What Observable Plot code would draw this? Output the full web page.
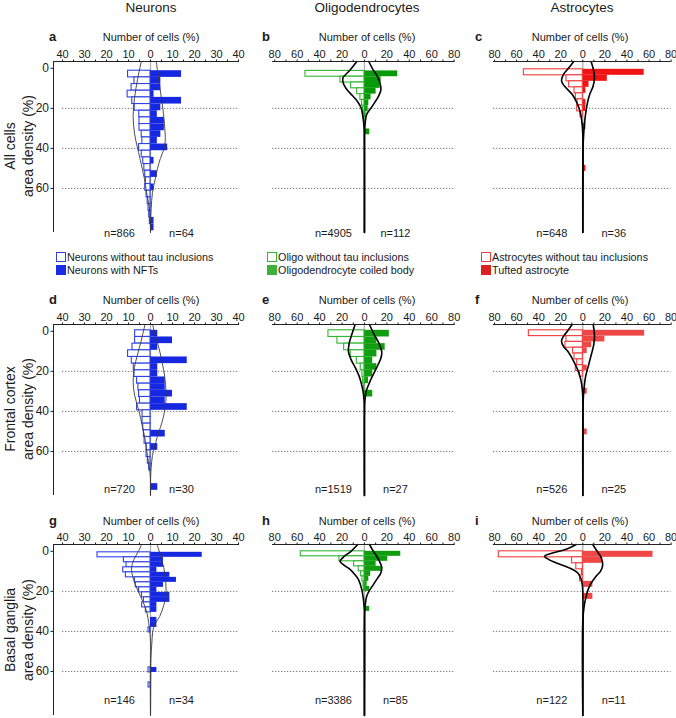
<!DOCTYPE html>
<html><head><meta charset="utf-8">
<script src="https://cdn.jsdelivr.net/npm/d3@7"></script>
<script src="https://cdn.jsdelivr.net/npm/@observablehq/plot@0.6"></script>
<style>
body{margin:0;background:#fff;font-family:"Liberation Sans",Arial,sans-serif;}
#fig{position:relative;width:676px;height:718px;overflow:hidden;background:#fff;}
.abs{position:absolute;white-space:nowrap;color:#1a1a1a;line-height:14px;}
.ttl{font-size:13.5px;transform:translateX(-50%);}
.let{font-size:13px;font-weight:bold;}
.nc{font-size:11px;transform:translateX(-50%);}
.rowlab{font-size:14px;text-align:center;line-height:18px;width:220px;height:36px;transform:rotate(-90deg);transform-origin:center center;}
.leg{font-size:10.8px;line-height:13px;}
.sq{display:inline-block;width:10px;height:10px;vertical-align:-1px;margin-right:1px;box-sizing:border-box;}
svg{position:absolute;overflow:visible;}
</style></head><body><div id="fig"></div>
<script>
// ---------------- DATA ----------------
const columnTitles = ["Neurons", "Oligodendrocytes", "Astrocytes"];
const rowTitles = [["All cells", "area density (%)"], ["Frontal cortex", "area density (%)"], ["Basal ganglia", "area density (%)"]];
const panelLetters = ["a","b","c","d","e","f","g","h","i"];
const legendWithout = ["Neurons without tau inclusions", "Oligo without tau inclusions", "Astrocytes without tau inclusions"];
const legendWith = ["Neurons with NFTs", "Oligodendrocyte coiled body", "Tufted astrocyte"];
const yTicks = [0, 20, 40, 60];
const gridLines = [20, 40, 60];
const nWithout = [866, 4905, 648, 720, 1519, 526, 146, 3386, 122];
const nWith = [64, 112, 36, 30, 27, 25, 34, 85, 11];
// histogram bins (area density %, lower edge of first bin and bin width) per panel
const binStarts = [1.2, 1.3, 0.5, -0.5, -0.5, -0.5, 0.5, 0, 0];
const binWidths = [3.33, 2.9, 3.0, 3.33, 3.33, 2.9, 2.5, 2.5, 3.0];

// % of cells per bin (without tau inclusions / with tau inclusions)
const aWithout = [10.2, 7.3, 8.6, 10.4, 8.3, 7.2, 5.1, 5.0, 5.0, 4.0, 3.7, 5.2, 4.0, 3.3, 2.8, 2.4, 2.1, 2.4, 1.8, 1.3, 0.9, 0.6, 0.3];
const aWith    = [14.1, 4.7, 4.7, 1.6, 14.1, 4.7, 3.1, 6.3, 6.3, 4.7, 3.1, 7.8, 0, 1.6, 0, 3.1, 0, 1.6, 0, 0, 0, 0, 1.6, 1.6];
const bWithout = [52.6, 21.4, 11.9, 6.5, 3.6, 2.1, 1.2, 0.6, 0.3];
const bWith    = [29.7, 14.9, 14.0, 10.4, 5.9, 3.9, 3.3, 1.5, 0, 0, 4.8];
const cWithout = [53.4, 14.8, 12.4, 7.5, 6.3, 4.8, 5.1, 2.1];
const cWith    = [55.6, 22.2, 5.6, 2.8, 0, 2.8, 2.8, 0, 0, 2.8, 0, 0, 0, 0, 0, 0, 2.8];
const dWithout = [7.0, 7.0, 8.2, 10.2, 8.5, 7.6, 7.3, 6.1, 5.5, 5.2, 4.8, 6.1, 3.6, 3.6, 3.3, 3.0, 2.7, 1.8, 1.8, 1.2, 0.6];
const dWith    = [3.3, 10, 3.3, 0, 16.7, 3.3, 3.3, 6.7, 6.7, 10, 6.7, 16.7, 0, 0, 0, 6.7, 0, 3.3, 0, 0, 0, 0, 0, 3.3];
const eWithout = [32.1, 24.1, 18.1, 12.2, 6.8, 3.3, 1.8, 1.2, 0.6];
const eWith    = [22.2, 11.1, 18.5, 11.1, 7.4, 11.1, 7.4, 3.7, 0, 7.4];
const fWithout = [48.9, 14.8, 15.7, 8.8, 7.5, 5.1, 6.3, 2.7];
const fWith    = [56, 20, 8, 4, 0, 0, 4, 0, 0, 0, 4, 0, 0, 0, 0, 0, 0, 4];
const gWithout = [24.1, 12.1, 10.9, 12.4, 11.2, 7.1, 6.7, 5.2, 3.9, 3.0, 3.8, 2.1, 0, 0, 0, 0.9, 0, 0, 0, 0, 0, 0, 0, 0.9, 0, 0, 0.9];
const gWith    = [23.5, 5.9, 5.9, 2.9, 8.8, 11.8, 5.9, 2.9, 8.8, 8.8, 2.9, 2.9, 0, 2.9, 2.9, 0, 0, 0, 0, 0, 0, 0, 0, 2.9];
const hWithout = [56.8, 22.3, 9.2, 5.1, 3.0, 1.8, 0.9, 0.5];
const hWith    = [32.4, 20.8, 10.4, 15.5, 5.6, 3.9, 2.4, 4.7, 0, 0, 0, 4.7];
const iWithout = [76.1, 9.7, 5.9, 0.8, 2.5];
const iWith    = [63.6, 18.2, 0, 0, 0, 9.1, 0, 9.1];

// density curves: [area density, % of cells]
const aCurveWithout = [[-3.4,-4.2],[5,-5.8],[15,-7.3],[24,-7.9],[33,-7.2],[45,-4.8],[55,-2.8],[62,-1.8],[69,-0.6],[76,-0.1],[82,0]];
const aCurveWith    = [[-3.4,2.6],[10,4.3],[20,5.6],[30,6.5],[36,6.7],[40,6.2],[45,4.5],[50,3.2],[55,2.2],[62,0.9],[70,0.3],[78,0],[82,0]];
const bCurveWithout = [[-3.4,-6.8],[1,-13],[5,-19.3],[8,-18.5],[10.5,-15.8],[13.5,-11],[16.3,-6.5],[19.7,-3],[24.7,-1.2],[30,-0.3],[36,0],[82,0]];
const bCurveWith    = [[-3.4,3.9],[0,7],[4,11.5],[8,14.2],[11,14.6],[14,12.5],[17,9.2],[20,5.6],[23,2],[27,0.7],[33,0.1],[38,0],[82,0]];
const cCurveWithout = [[-3.4,-8.2],[0,-13],[3,-17.5],[6.3,-19.3],[9,-16.5],[13,-9.7],[17,-5.5],[20,-3.4],[24,-1.5],[28,-0.6],[33,0],[82,0]];
const cCurveWith    = [[-3.4,7.5],[1,9.8],[4.7,10.6],[9,9.3],[13,6.3],[17,4.3],[20,3.3],[26,1.8],[32,0.9],[38,0.3],[45,0],[82,0]];
const dCurveWithout = [[-3.4,-2.5],[5,-4.3],[12,-6],[18,-7.3],[25,-7.9],[32,-7.2],[40,-5.2],[47,-3.8],[53,-2.6],[62,-1.4],[68,-0.5],[74,0],[82,0]];
const dCurveWith    = [[-3.4,1],[3,2.3],[7,3.5],[15,5.2],[23,6.5],[30,7],[35,7],[43,5.8],[48,4.5],[53,3],[58,1.8],[62,0.9],[68,0.3],[74,0],[82,0]];
const eCurveWithout = [[-3.4,-8.3],[2,-11.5],[6,-13.6],[10,-14.3],[14,-12],[18,-8.3],[22,-5],[25,-3.3],[30,-1.2],[35,-0.3],[40,0],[82,0]];
const eCurveWith    = [[-3.4,4.5],[2,9],[6,13],[10.7,15.5],[14,14.3],[18,11],[22,7.5],[25,5],[30,1.5],[35,0.4],[40,0],[82,0]];
const fCurveWithout = [[-3.4,-9.7],[0,-14],[2.5,-17.5],[4.8,-19.3],[7.5,-17.5],[10,-13.6],[15,-8.2],[20.7,-3.6],[25,-1.5],[29,-0.5],[33,0],[82,0]];
const fCurveWith    = [[-3.4,9.4],[0,10.3],[3,10.6],[7,9.8],[10,8.5],[16.5,5.4],[23,2.4],[30,0.9],[35,0.3],[42,0],[82,0]];
const gCurveWithout = [[-3.4,-4.1],[0,-5.5],[4,-7.5],[8.3,-8.6],[13,-8],[20,-5.6],[25,-3.5],[30,-1.8],[37.5,-0.6],[45,0],[82,0]];
const gCurveWith    = [[-3.4,3],[2,4.5],[8,6],[14,6.8],[22.5,7],[27,6],[32.5,4.2],[36,2.2],[39,1.2],[47.5,0.5],[56,0],[82,0]];
const hCurveWithout = [[-3.4,-6],[0,-12],[3,-19],[5,-21.7],[7,-18],[9,-12.8],[12,-8],[14,-5.4],[19,-2.4],[24,-0.9],[30,0],[82,0]];
const hCurveWith    = [[-3.4,4.5],[0,8],[4,12.5],[8.3,15.5],[11,14.5],[14,11],[17,7.5],[19,5],[22.5,2],[27.5,0.6],[33,0],[82,0]];
const iCurveWithout = [[-3.4,-6],[-1,-15],[1,-28],[2.5,-34.7],[4,-31],[5.8,-24],[8.3,-12],[10.8,-4.5],[14,-1.5],[17,-0.4],[20,0],[82,0]];
const iCurveWith    = [[-3.4,9],[0,13],[3,16.5],[7,18],[10,16],[12.5,12],[17.5,6],[22.5,3],[27.5,1.2],[35,0],[82,0]];

const withoutSets = [aWithout,bWithout,cWithout,dWithout,eWithout,fWithout,gWithout,hWithout,iWithout];
const withSets = [aWith,bWith,cWith,dWith,eWith,fWith,gWith,hWith,iWith];
const curveWithoutSets = [aCurveWithout,bCurveWithout,cCurveWithout,dCurveWithout,eCurveWithout,fCurveWithout,gCurveWithout,hCurveWithout,iCurveWithout];
const curveWithSets = [aCurveWith,bCurveWith,cCurveWith,dCurveWith,eCurveWith,fCurveWith,gCurveWith,hCurveWith,iCurveWith];

// ---------------- LAYOUT / STYLE ----------------
const FONT = '"Liberation Sans", Arial, sans-serif';
const yDomain = [-3.4, 82];
const MT = 22, PH = 171, MB = 14;
const cols = [
  {left:0,   width:245, ml:53,   mr:7,   domain:[-44.1,40], ticks:d3.range(-40,41,5),  step:10, gridX:[-40,40],
   fill:["#1527e0","#1527e0","#1527e0"], stroke:"#2f43e4", legFill:"#1a2ce6", curve:"#3a3a3a", cw:0.9},
  {left:245, width:215, ml:27,   mr:5.8, domain:[-82,80.5], ticks:d3.range(-80,81,10), step:20, gridX:[-82,80.5],
   fill:["#079a07","#109e10","#0f9c0f"], stroke:"#32b532", legFill:"#3cb23c", curve:"#000", cw:1.6},
  {left:460, width:216, ml:32.9, mr:5.4, domain:[-81,80],   ticks:d3.range(-80,81,10), step:20, gridX:[-81,80],
   fill:["#f01414","#ef4646","#ef4646"], stroke:"#f43c3c", legFill:"#dc2020", curve:"#000", cw:1.6}
];
const rows = [
  {axisTop:60.5,  nDy:4.5, labY:36.5},
  {axisTop:323.5, nDy:-3,  labY:299.5},
  {axisTop:544,   nDy:-12, labY:521}
];

const fig = document.getElementById("fig");
function addDiv(cls, text, left, top, extra) {
  const d = document.createElement("div");
  d.className = "abs " + cls;
  d.textContent = text;
  d.style.left = left + "px"; d.style.top = top + "px";
  if (extra) Object.assign(d.style, extra);
  fig.appendChild(d);
  return d;
}

function bins(vals, start, w, sign) {
  return vals.map((v, k) => ({y1: start + k * w, y2: start + (k + 1) * w, v: sign * v})).filter(d => d.v !== 0);
}

for (let p = 0; p < 9; p++) {
  const r = Math.floor(p / 3), c = p % 3;
  const C = cols[c], R = rows[r];
  const lw = bins(withoutSets[p], binStarts[p], binWidths[p], -1);
  const rw = bins(withSets[p], binStarts[p], binWidths[p], 1);
  const marks = [
    Plot.ruleY(gridLines, {x1: () => C.gridX[0], x2: () => C.gridX[1], stroke: "#555", strokeWidth: 0.8, strokeDasharray: "1.3,1.7"}),
    Plot.ruleX([0], {stroke: "#b0b0b0", strokeWidth: 1.3}),
    Plot.rect(rw, {x1: () => 0, x2: "v", y1: "y1", y2: "y2", fill: C.fill[r]}),
    Plot.rect(lw, {x1: () => 0, x2: "v", y1: "y1", y2: "y2", fill: "white", stroke: C.stroke, strokeWidth: 1.1}),
    Plot.line(curveWithoutSets[p], {x: d => d[1], y: d => d[0], curve: "catmull-rom", stroke: C.curve, strokeWidth: C.cw}),
    Plot.line(curveWithSets[p], {x: d => d[1], y: d => d[0], curve: "catmull-rom", stroke: C.curve, strokeWidth: C.cw}),
    Plot.ruleY([yDomain[0]], {stroke: "#222", strokeWidth: 1}),
    Plot.axisX(C.ticks, {anchor: "top", label: null, tickSize: 2.5, tickPadding: 1.5, fontSize: 11,
      tickFormat: d => (d % C.step === 0 ? String(Math.abs(d)) : "")}),
    Plot.text([nWithout[p]], {x: () => 0, dx: -31, frameAnchor: "bottom", dy: R.nDy, text: d => "n=" + d, fontSize: 11, fill: "#1a1a1a"}),
    Plot.text([nWith[p]], {x: () => 0, dx: 31, frameAnchor: "bottom", dy: R.nDy, text: d => "n=" + d, fontSize: 11, fill: "#1a1a1a"})
  ];
  if (c === 0) {
    marks.push(Plot.ruleX([C.domain[0]], {stroke: "#222", strokeWidth: 1}));
    marks.push(Plot.axisY(yTicks, {anchor: "left", label: null, tickSize: 2.5, tickPadding: 2, fontSize: 12}));
  }
  const svg = Plot.plot({
    width: C.width, height: MT + PH + MB,
    marginLeft: C.ml, marginRight: C.mr, marginTop: MT, marginBottom: MB,
    x: {domain: C.domain, axis: null, label: null},
    y: {domain: yDomain, reverse: true, axis: null, label: null},
    style: {fontFamily: FONT, color: "#1a1a1a", background: "transparent", overflow: "visible"},
    marks
  });
  svg.style.left = C.left + "px";
  svg.style.top = (R.axisTop - MT) + "px";
  fig.appendChild(svg);

  // panel letter & x title
  const letterX = [49, 262, 475][c];
  const titleX = [151, 367, 580][c];
  addDiv("let", panelLetters[p], letterX, R.labY - 7);
  addDiv("nc", "Number of cells (%)", titleX, R.labY - 7);
}

// column titles
[151, 367, 582].forEach((x, i) => addDiv("ttl", columnTitles[i], x, 1));

// row titles
[146, 409, 630].forEach((cy, i) => {
  const d = document.createElement("div");
  d.className = "abs rowlab";
  d.innerHTML = rowTitles[i][0] + "<br>" + rowTitles[i][1];
  d.style.left = (19 - 110) + "px";
  d.style.top = (cy - 18) + "px";
  fig.appendChild(d);
});

// legends
[56, 267, 481].forEach((x, i) => {
  const C = cols[i];
  const l1 = addDiv("leg", "", x, 251);
  l1.innerHTML = `<span class="sq" style="border:1.4px solid ${C.stroke};background:#fff"></span>` + legendWithout[i];
  const l2 = addDiv("leg", "", x, 264);
  l2.innerHTML = `<span class="sq" style="background:${C.legFill}"></span>` + legendWith[i];
});
</script></body></html>
